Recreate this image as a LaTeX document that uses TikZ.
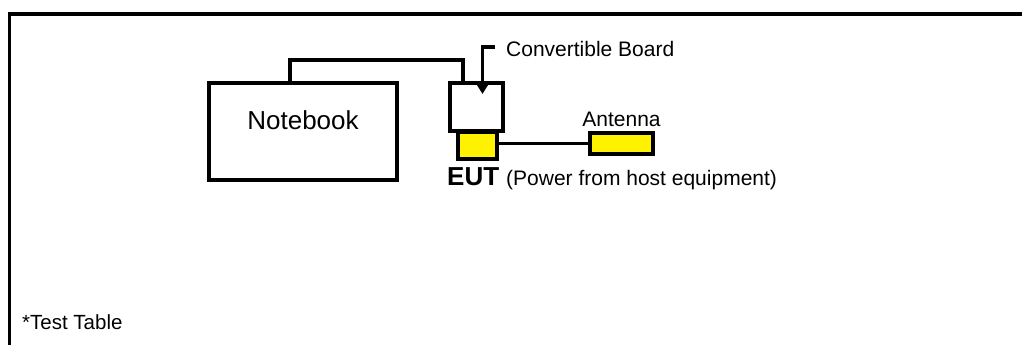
\documentclass[tikz,border=0pt]{standalone}
\usepackage{fontspec}
\setmainfont{Liberation Sans}
\usetikzlibrary{arrows.meta}
\tikzset{
  boxw/.style={draw=black, line width=3.8pt, fill=white, inner sep=0pt},
  boxy/.style={draw=black, line width=3.8pt, fill=yellow, inner sep=0pt},
  cable/.style={draw=black, line width=3.8pt},
  frameline/.style={draw=black, line width=3.8pt},
  lbl/.style={inner sep=0pt, font=\fontsize{21}{25}\selectfont},
}
\begin{document}
\begin{tikzpicture}[x=1pt,y=-1pt]
\useasboundingbox (0,0) rectangle (1022,345);
\fill[white] (0,0) rectangle (1022,345);
% frame of the test table
\coordinate (fr1) at (1040,14);
\coordinate (fr2) at (9.5,360);
\draw[frameline] (fr1) -| (fr2);
% notebook
\node[boxw, minimum width=188pt, minimum height=97pt] (nb) at (303,131.5) {};
\node[inner sep=0pt, font=\fontsize{26}{30}\selectfont] (nbt) at (303,120) {Notebook};
% convertible board
\node[boxw, minimum width=53pt, minimum height=48pt] (cb) at (476.5,107) {};
% EUT
\node[boxy, minimum width=39pt, minimum height=27pt] (eut) at (477.5,145.5) {};
% antenna
\node[boxy, minimum width=63pt, minimum height=21pt] (ant) at (621.5,143.5) {};
\node[lbl, anchor=south] (antt) at (621.5,127) {Antenna};
% cable notebook - board
\coordinate (nbc) at (290,60);
\draw[cable] (nbc |- nb.north) |- (nbc) -| (463,84);
% pointer to convertible board
\coordinate (ps) at (495,47);
\coordinate (pe) at (482.5,94);
\draw[cable, -{Triangle[length=12pt,width=14pt]}] (ps) -| (pe);
\node[lbl, anchor=west] (cbt) at (506,49) {Convertible Board};
% EUT to antenna
\draw[cable] (ant.west -| eut.east) -- (ant.west);
% EUT label
\node[inner sep=0pt, anchor=west] (eutt) at (447,179) {{\fontsize{26}{30}\selectfont\bfseries EUT}\hspace{7pt}{\fontsize{21}{25}\selectfont(Power from host equipment)}};
% test table label
\node[lbl, anchor=west, font=\fontsize{20.5}{25}\selectfont] (tt) at (22,322) {*Test Table};
\end{tikzpicture}
\end{document}
